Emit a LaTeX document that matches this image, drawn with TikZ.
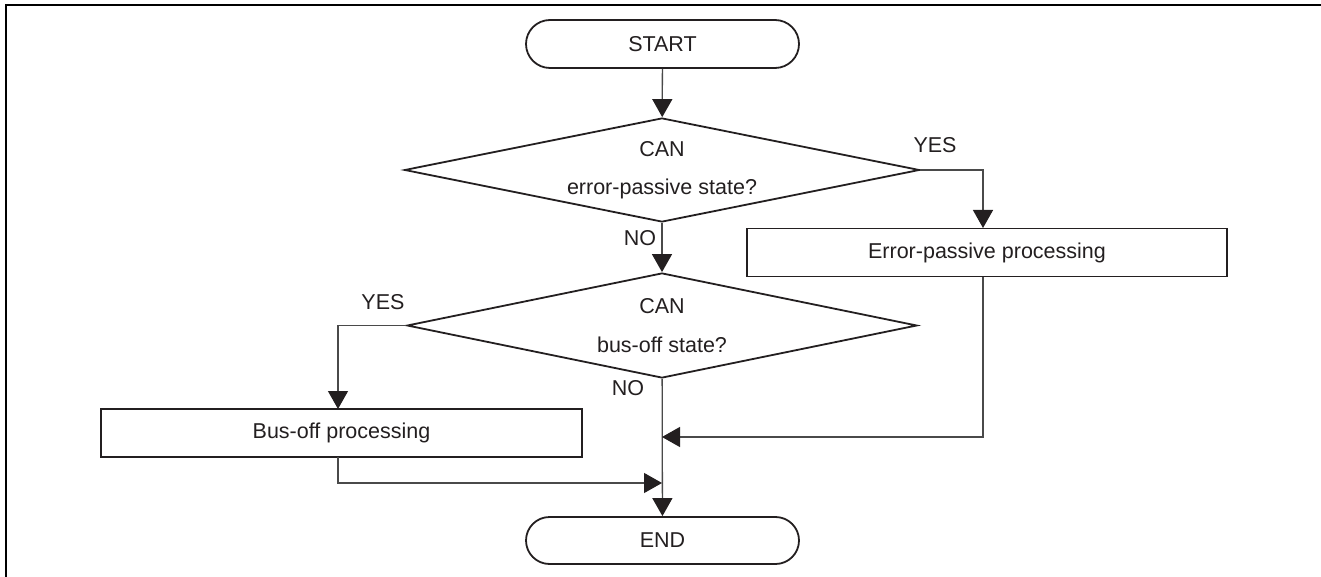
\documentclass[tikz,border=0pt]{standalone}
\usepackage{fontspec}
\setmainfont{Liberation Sans}
\usetikzlibrary{shapes.geometric,shapes.misc,arrows.meta}
\definecolor{shapeline}{HTML}{231F20}
\definecolor{connline}{HTML}{4A4A4A}
\begin{document}
\begin{tikzpicture}[x=1pt,y=-1pt,
  every node/.style={font=\fontsize{21.5}{38.5}\selectfont, text=shapeline, inner sep=0pt},
  terminal/.style={draw=shapeline, line width=1.8pt, rounded rectangle, minimum width=273pt, minimum height=48pt},
  procbox/.style={draw=shapeline, line width=1.8pt, rectangle, minimum height=48pt},
  decision/.style={draw=shapeline, line width=1.8pt, diamond, aspect=4.9, align=center},
  conn/.style={draw=connline, line width=1.3pt, -{Triangle[length=18pt,width=20pt,color=shapeline,fill=shapeline]}},
  lbl/.style={}
]
\useasboundingbox (0,0) rectangle (1321,577);
\draw[line width=2.4pt, black] (6,577) -- (6,5) -- (1321,5);

\node[terminal] (start) at (662.5,44) {START};
\node[decision, minimum width=515pt, minimum height=104pt] (d1) at (662,170) {CAN\\error-passive state?};
\node[procbox, minimum width=480pt] (ep) at (987,252.5) {Error-passive processing};
\node[decision, minimum width=510pt, minimum height=105pt] (d2) at (662,325.5) {CAN\\bus-off state?};
\node[procbox, minimum width=481pt] (bo) at (341.5,433) {Bus-off processing};
\node[terminal, minimum height=47pt] (end) at (662.5,540.5) {END};

\node[lbl] (yes1) at (935,145) {YES};
\node[lbl] (no1) at (640,238) {NO};
\node[lbl] (yes2) at (383,302) {YES};
\node[lbl] (no2) at (628,388) {NO};

\coordinate (epdown) at (983,277);
\coordinate (m1) at (662,437);
\coordinate (bodown) at (338,457);
\coordinate (m2) at (662,483);

\draw[conn] (start) -- (d1);
\draw[conn] (d1.east) -| (983,228);
\draw[conn] (d1) -- (d2);
\draw[conn] (d2.west) -| (338,409);
\draw[conn] (d2) -- (end);
\draw[conn] (epdown) |- (m1);
\draw[conn] (bodown) |- (m2);
\end{tikzpicture}
\end{document}
